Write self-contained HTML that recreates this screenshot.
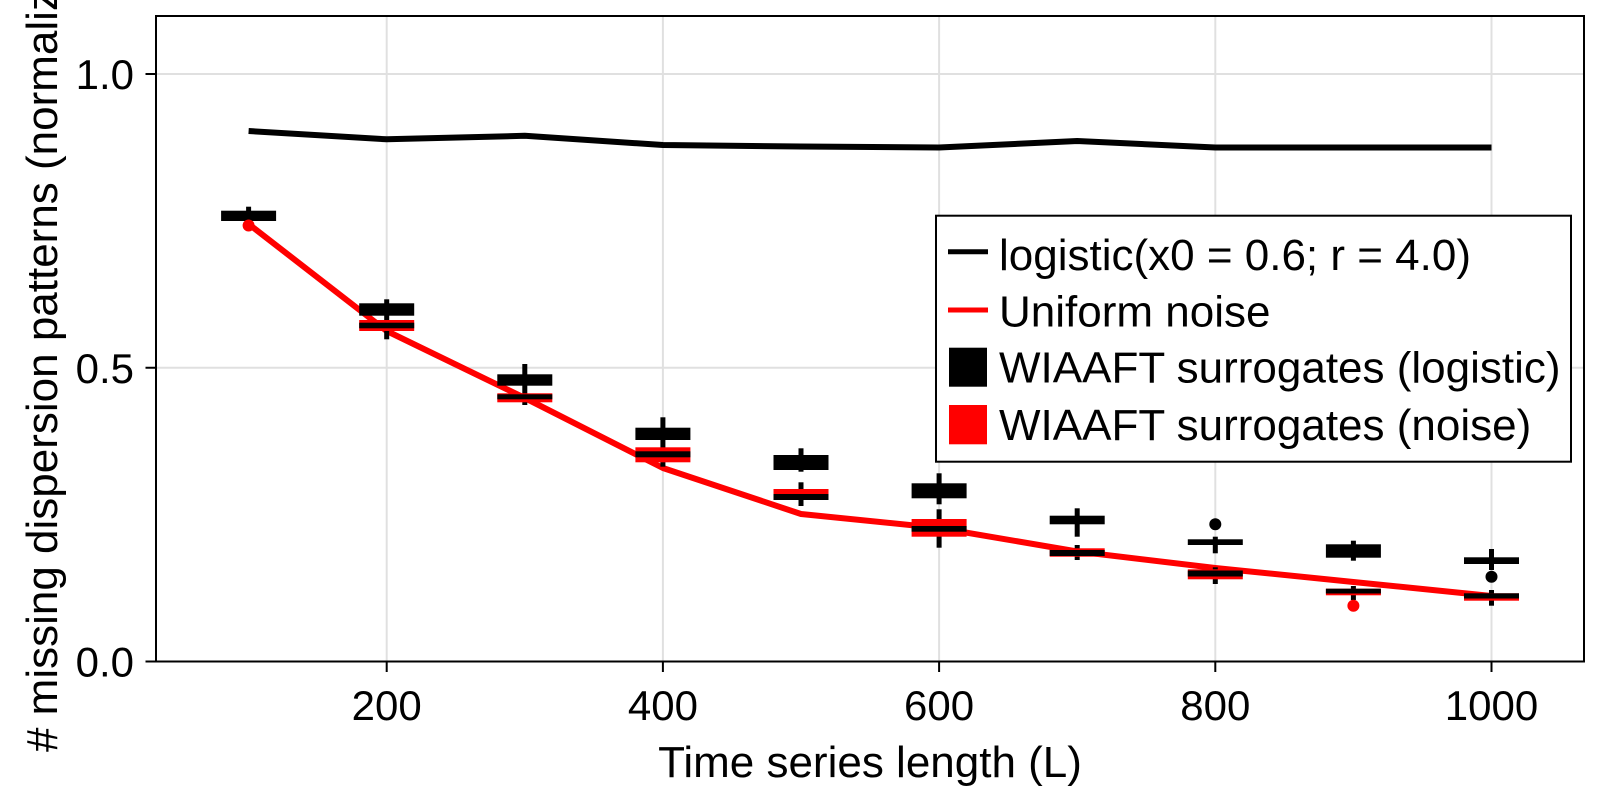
<!DOCTYPE html>
<html>
<head>
<meta charset="utf-8">
<style>
  html, body { margin: 0; padding: 0; background: #ffffff; }
  svg { display: block; }
  text { font-family: "Liberation Sans", Arial, Helvetica, sans-serif; fill: #000; }
</style>
</head>
<body>
<svg width="1600" height="800" viewBox="0 0 1600 800" xmlns="http://www.w3.org/2000/svg">
  <rect x="0" y="0" width="1600" height="800" fill="#ffffff"/>

  <!-- gridlines -->
  <g stroke="#e0e0e0" stroke-width="2">
    <line x1="386.7" y1="16" x2="386.7" y2="661.5"/>
    <line x1="662.9" y1="16" x2="662.9" y2="661.5"/>
    <line x1="939.1" y1="16" x2="939.1" y2="661.5"/>
    <line x1="1215.3" y1="16" x2="1215.3" y2="661.5"/>
    <line x1="1491.5" y1="16" x2="1491.5" y2="661.5"/>
    <line x1="156" y1="74" x2="1584" y2="74"/>
    <line x1="156" y1="367.75" x2="1584" y2="367.75"/>
  </g>

  <!-- logistic line (black) -->
  <polyline fill="none" stroke="#000" stroke-width="6" stroke-linejoin="round"
    points="248.6,131 386.7,139.3 524.8,135.8 662.9,145 801,146.5 939.1,147.5 1077.2,141 1215.3,147.5 1353.4,147.5 1491.5,147.5"/>

  <!-- uniform noise line (red) -->
  <polyline fill="none" stroke="#ff0000" stroke-width="6" stroke-linejoin="round"
    points="248.6,224 386.7,331 524.8,398 662.9,468 801,514 939.1,528 1077.2,551.5 1215.3,568 1353.4,582 1491.5,596"/>

  <!-- whiskers -->
  <g fill="#000">
    <rect x="246.1" y="206.7" width="5" height="14.3"/>
    <rect x="384.2" y="299.3" width="5" height="40"/>
    <rect x="522.3" y="364" width="5" height="41"/>
    <rect x="660.4" y="417.3" width="5" height="49.4"/>
    <rect x="798.5" y="448.3" width="5" height="23.4"/>
    <rect x="798.5" y="482.3" width="5" height="23.7"/>
    <rect x="936.6" y="473.3" width="5" height="31"/>
    <rect x="936.6" y="509.3" width="5" height="38.4"/>
    <rect x="1074.7" y="508.3" width="5" height="28.4"/>
    <rect x="1074.7" y="545" width="5" height="15"/>
    <rect x="1212.8" y="536.7" width="5" height="16.6"/>
    <rect x="1212.8" y="567.3" width="5" height="16.7"/>
    <rect x="1350.9" y="540.7" width="5" height="20"/>
    <rect x="1350.9" y="586" width="5" height="14"/>
    <rect x="1489" y="549" width="5" height="21"/>
    <rect x="1489" y="590" width="5" height="15.7"/>
  </g>

  <!-- black boxes (logistic surrogates) -->
  <g fill="#000">
    <rect x="221.1" y="210.7" width="55" height="10.3"/>
    <rect x="359.2" y="303.3" width="55" height="12.4"/>
    <rect x="497.3" y="374.3" width="55" height="11.4"/>
    <rect x="635.4" y="427.7" width="55" height="12.3"/>
    <rect x="773.5" y="455" width="55" height="15"/>
    <rect x="911.6" y="483.3" width="55" height="15"/>
    <rect x="1049.7" y="515.7" width="55" height="8.6"/>
    <rect x="1187.8" y="539.3" width="55" height="5.7"/>
    <rect x="1325.9" y="544.3" width="55" height="13.4"/>
    <rect x="1464" y="557.3" width="55" height="6.7"/>
  </g>

  <!-- red boxes (noise surrogates) -->
  <g fill="#ff0000">
    <rect x="359.2" y="320" width="55" height="11"/>
    <rect x="497.3" y="393.3" width="55" height="9"/>
    <rect x="635.4" y="447.3" width="55" height="15"/>
    <rect x="773.5" y="489" width="55" height="11"/>
    <rect x="911.6" y="519" width="55" height="17.7"/>
    <rect x="1049.7" y="548.3" width="55" height="8.4"/>
    <rect x="1187.8" y="569.3" width="55" height="10"/>
    <rect x="1325.9" y="588.7" width="55" height="6.6"/>
    <rect x="1464" y="593.3" width="55" height="7.4"/>
  </g>

  <!-- medians of red boxes (black) -->
  <g fill="#000">
    <rect x="359.2" y="322.7" width="55" height="5.6"/>
    <rect x="497.3" y="394.3" width="55" height="5"/>
    <rect x="635.4" y="451.3" width="55" height="6"/>
    <rect x="773.5" y="494" width="55" height="6"/>
    <rect x="911.6" y="526" width="55" height="5.7"/>
    <rect x="1049.7" y="550" width="55" height="6"/>
    <rect x="1187.8" y="570.5" width="55" height="6"/>
    <rect x="1325.9" y="588.7" width="55" height="4.8"/>
    <rect x="1464" y="593.3" width="55" height="5.2"/>
  </g>

  <!-- outliers -->
  <circle cx="248.6" cy="225.5" r="6" fill="#ff0000"/>
  <circle cx="1215.3" cy="524.3" r="6" fill="#000"/>
  <circle cx="1353.4" cy="605.7" r="6" fill="#ff0000"/>
  <circle cx="1491.5" cy="576.7" r="6" fill="#000"/>

  <!-- spines -->
  <rect x="156" y="16" width="1428" height="645.5" fill="none" stroke="#000" stroke-width="2"/>

  <!-- ticks -->
  <g stroke="#000" stroke-width="2">
    <line x1="386.7" y1="661.5" x2="386.7" y2="672"/>
    <line x1="662.9" y1="661.5" x2="662.9" y2="672"/>
    <line x1="939.1" y1="661.5" x2="939.1" y2="672"/>
    <line x1="1215.3" y1="661.5" x2="1215.3" y2="672"/>
    <line x1="1491.5" y1="661.5" x2="1491.5" y2="672"/>
    <line x1="145.5" y1="74" x2="156" y2="74"/>
    <line x1="145.5" y1="367.75" x2="156" y2="367.75"/>
    <line x1="145.5" y1="661.5" x2="156" y2="661.5"/>
  </g>

  <!-- tick labels -->
  <g font-size="42" text-anchor="middle">
    <text x="386.7" y="720">200</text>
    <text x="662.9" y="720">400</text>
    <text x="939.1" y="720">600</text>
    <text x="1215.3" y="720">800</text>
    <text x="1491.5" y="720">1000</text>
  </g>
  <g font-size="42" text-anchor="end">
    <text x="134" y="89">1.0</text>
    <text x="134" y="382.8">0.5</text>
    <text x="134" y="676.5">0.0</text>
  </g>

  <!-- axis labels -->
  <text x="870" y="777" font-size="44" text-anchor="middle">Time series length (L)</text>
  <text transform="translate(57,338.75) rotate(-90)" font-size="44" text-anchor="middle"># missing dispersion patterns (normalized)</text>

  <!-- legend -->
  <rect x="936" y="215.7" width="635" height="246" fill="#ffffff" stroke="#000" stroke-width="2"/>
  <line x1="948" y1="251.7" x2="988" y2="251.7" stroke="#000" stroke-width="5"/>
  <line x1="948" y1="310" x2="988" y2="310" stroke="#ff0000" stroke-width="5"/>
  <rect x="949" y="347.7" width="38" height="39" fill="#000"/>
  <rect x="949" y="405" width="38" height="39.3" fill="#ff0000"/>
  <g font-size="44">
    <text x="999" y="270">logistic(x0 = 0.6; r = 4.0)</text>
    <text x="999" y="326.7">Uniform noise</text>
    <text x="999" y="382.7">WIAAFT surrogates (logistic)</text>
    <text x="999" y="440">WIAAFT surrogates (noise)</text>
  </g>
</svg>
</body>
</html>
